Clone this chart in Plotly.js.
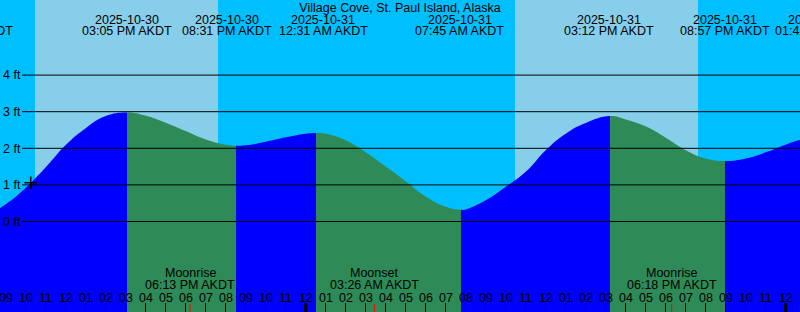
<!DOCTYPE html>
<html><head><meta charset="utf-8">
<script src="https://cdn.plot.ly/plotly-3.0.1.min.js"></script>
<style>html,body{margin:0;padding:0;background:#fff;} #chart{width:800px;height:312px;}</style>
</head><body><div id="chart"></div>
<script>
// ---- data (x = hours since 2025-10-30 00:00 AKDT, y = tide level in ft) ----
const titleText = 'Village Cove, St. Paul Island, Alaska';
const tideTimes  = [7.217, 8, 9, 10, 11, 12, 13, 14, 15.083, 16, 17, 18, 19, 20, 20.517, 21, 22, 23, 24, 24.517, 25, 26, 27, 28, 29, 30, 31, 31.75, 32, 33, 34, 35, 36, 37, 38, 39.2, 40, 41, 42, 43, 44, 44.95, 46, 47, 48, 49, 49.683];
const tideLevels = [0.11, 0.18, 0.47, 0.92, 1.48, 2.09, 2.55, 2.88, 2.98, 2.89, 2.70, 2.47, 2.24, 2.10, 2.07, 2.08, 2.18, 2.30, 2.40, 2.42, 2.40, 2.22, 1.89, 1.50, 1.10, 0.68, 0.40, 0.32, 0.33, 0.58, 0.95, 1.36, 1.95, 2.40, 2.69, 2.88, 2.79, 2.60, 2.29, 1.95, 1.72, 1.65, 1.72, 1.89, 2.10, 2.27, 2.32];
const extremeTimes = [7.217, 15.083, 20.517, 24.517, 31.75, 39.2, 44.95, 49.683];
const extremeTypes = ['low', 'high', 'low', 'high', 'low', 'high', 'low', 'high'];
const extremeDates = ['2025-10-30', '2025-10-30', '2025-10-30', '2025-10-31', '2025-10-31', '2025-10-31', '2025-10-31', '2025-11-01'];
const extremeClock = ['07:13 AM AKDT', '03:05 PM AKDT', '08:31 PM AKDT', '12:31 AM AKDT', '07:45 AM AKDT', '03:12 PM AKDT', '08:57 PM AKDT', '01:41 AM AKDT'];
const sunriseTimes = [10.467, 34.467];
const sunsetTimes  = [19.617, 43.617];
const moonTimes = [18.217, 27.433, 42.3];
const moonNames = ['Moonrise', 'Moonset', 'Moonrise'];
const moonClock = ['06:13 PM AKDT', '03:26 AM AKDT', '06:18 PM AKDT'];
const midnightTimes = [24, 48];
const nowTime = [10.25];
const nowLevel = [1.06];
const hourTicks = [9,10,11,12,13,14,15,16,17,18,19,20,21,22,23,24,25,26,27,28,29,30,31,32,33,34,35,36,37,38,39,40,41,42,43,44,45,46,47,48];
const hourLabels = ['09','10','11','12','01','02','03','04','05','06','07','08','09','10','11','12','01','02','03','04','05','06','07','08','09','10','11','12','01','02','03','04','05','06','07','08','09','10','11','12'];
const levelTicks = [0, 1, 2, 3, 4];
const levelLabels = ['0 ft', '1 ft', '2 ft', '3 ft', '4 ft'];

// ---- styling ----
const X_RANGE = [8.715, 48.715];
const Y_RANGE = [-2.473, 6.052];
const W = 800, H = 312;
const NIGHT = '#00BFFF', DAY = '#87CEEB', RISING = '#0000FF', FALLING = '#2E8B57';
const FONT = {family: '"Liberation Sans", Arial, Helvetica, sans-serif', size: 12.5, color: '#000'};
const labelShift = [-2, 0, -9, 7, -1, -1, 0, 0];

// stepped horizontal colorscale: rising after a low, falling after a high
const gStart = tideTimes[0], gStop = tideTimes[tideTimes.length - 1];
const segColor = k => extremeTypes[k] === 'low' ? RISING : FALLING;
const cs = [[0, segColor(0)]];
for (let k = 1; k < extremeTimes.length - 1; k++) {
  const f = (extremeTimes[k] - gStart) / (gStop - gStart);
  cs.push([f, segColor(k - 1)], [f, segColor(k)]);
}
cs.push([1, segColor(extremeTimes.length - 2)]);

const traces = [
  {x: [gStart, gStop], y: [Y_RANGE[0] - 3, Y_RANGE[0] - 3], mode: 'lines', line: {width: 0}, hoverinfo: 'skip', showlegend: false},
  {x: tideTimes, y: tideLevels, mode: 'lines', line: {width: 0, shape: 'spline', smoothing: 1.3}, fill: 'tonexty',
   fillcolor: RISING,
   fillgradient: {type: 'horizontal', start: gStart, stop: gStop, colorscale: cs},
   hoverinfo: 'skip', showlegend: false},
  {x: nowTime, y: nowLevel, mode: 'markers', marker: {symbol: 'cross-thin', size: 9, color: '#000', line: {width: 1.5, color: '#000'}}, hoverinfo: 'skip', showlegend: false}
];

const px = t => (t - X_RANGE[0]) / (X_RANGE[1] - X_RANGE[0]);
const shapes = [];
sunriseTimes.forEach((t, i) => shapes.push({type: 'rect', xref: 'x', yref: 'paper', x0: t, x1: sunsetTimes[i], y0: 0, y1: 1, fillcolor: DAY, line: {width: 0}, layer: 'below'}));
levelTicks.forEach(v => shapes.push({type: 'line', xref: 'paper', yref: 'y', x0: 22 / W, x1: 1, y0: v, y1: v, line: {color: '#000', width: 1}, layer: 'above'}));
midnightTimes.forEach(t => shapes.push({type: 'line', xref: 'x', yref: 'paper', x0: t, x1: t, y0: 0, y1: 9 / H, line: {color: '#000', width: 3}, layer: 'above'}));
moonTimes.forEach(t => shapes.push({type: 'line', xref: 'x', yref: 'paper', x0: t, x1: t, y0: 0, y1: 8 / H, line: {color: '#FF0000', width: 1}, layer: 'above'}));

const annotations = [];
extremeTimes.forEach((t, i) => {
  annotations.push({xref: 'paper', yref: 'paper', x: px(t), y: 1 - 19.5 / H, xanchor: 'center', yanchor: 'middle', xshift: labelShift[i], text: extremeDates[i], showarrow: false, font: FONT});
  annotations.push({xref: 'paper', yref: 'paper', x: px(t), y: 1 - 31.5 / H, xanchor: 'center', yanchor: 'middle', xshift: labelShift[i], text: extremeClock[i], showarrow: false, font: FONT});
});
moonTimes.forEach((t, i) => {
  annotations.push({xref: 'paper', yref: 'paper', x: px(t), y: 1 - 273.3 / H, xanchor: 'center', yanchor: 'middle', text: moonNames[i], showarrow: false, font: FONT});
  annotations.push({xref: 'paper', yref: 'paper', x: px(t), y: 1 - 285 / H, xanchor: 'center', yanchor: 'middle', text: moonClock[i], showarrow: false, font: FONT});
});
hourTicks.forEach((t, i) => {
  annotations.push({xref: 'paper', yref: 'paper', x: px(t), y: 1 - 297.5 / H, xanchor: 'center', yanchor: 'middle', text: hourLabels[i], showarrow: false, font: FONT});
});

const layout = {
  width: W, height: H,
  margin: {l: 0, r: 0, t: 0, b: 0, pad: 0},
  paper_bgcolor: NIGHT, plot_bgcolor: NIGHT,
  font: FONT,
  title: {text: titleText, font: FONT, x: 0.5, xanchor: 'center', xref: 'paper', y: 1 - 7.3 / H, yanchor: 'middle', yref: 'container'},
  xaxis: {range: X_RANGE, tickmode: 'array', tickvals: hourTicks, showticklabels: false, ticks: 'inside', ticklen: 9, tickwidth: 1, tickcolor: '#000',
          showgrid: false, zeroline: false, showline: false, layer: 'above traces', fixedrange: true},
  yaxis: {range: Y_RANGE, tickmode: 'array', tickvals: levelTicks, ticktext: levelLabels, ticks: '', ticklabelposition: 'inside',
          tickfont: FONT, showgrid: false, zeroline: false, showline: false, layer: 'above traces', fixedrange: true},
  shapes: shapes,
  annotations: annotations,
  showlegend: false
};

Plotly.newPlot('chart', traces, layout, {staticPlot: true, displayModeBar: false});
</script>
</body></html>
